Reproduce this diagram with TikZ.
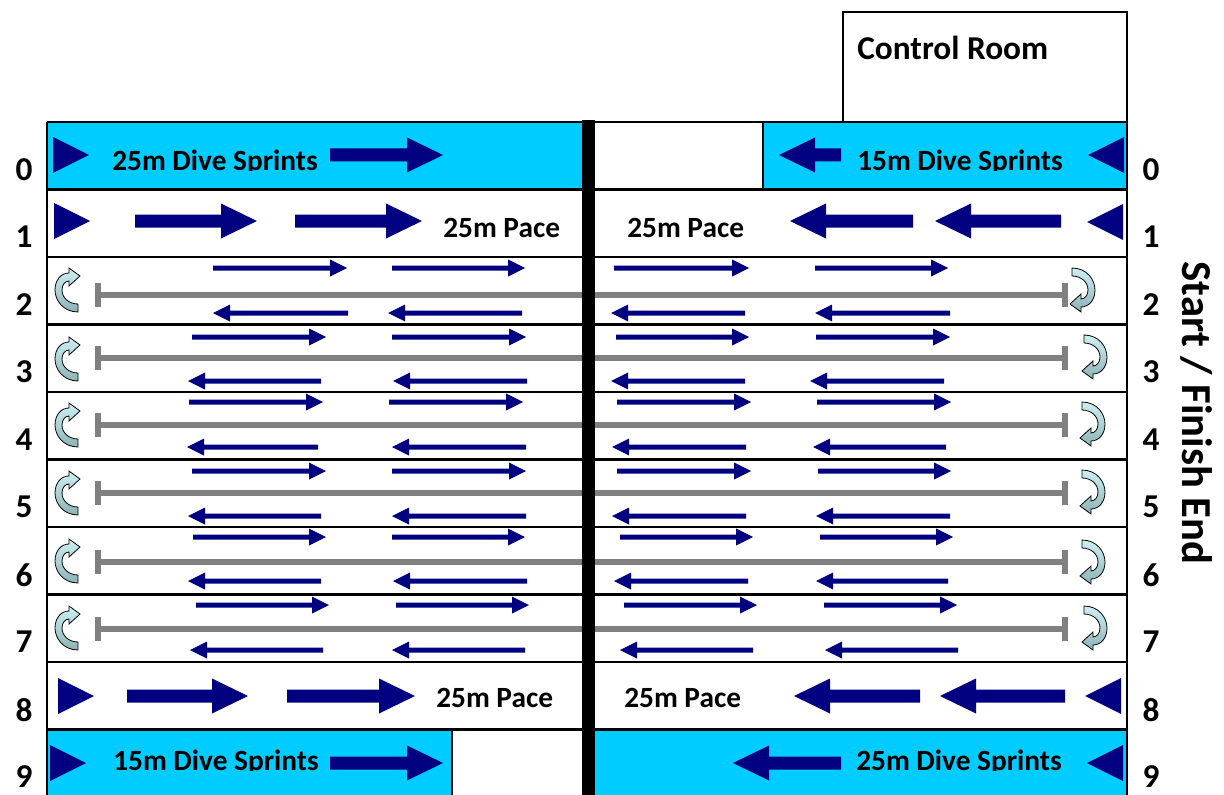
\documentclass[tikz,border=0pt]{standalone}
\usepackage{fontspec}
\setmainfont{Carlito}
\definecolor{navy}{HTML}{000080}
\definecolor{pool}{HTML}{00CCFF}
\definecolor{ropegray}{HTML}{808080}
\definecolor{turnlight}{HTML}{CDEFF3}
\definecolor{turndark}{HTML}{8DB3B6}
\newcommand{\poolarrow}[6]{%
  \pgfmathsetmacro{\padir}{(#2>#1)?1:-1}%
  \pgfmathsetmacro{\pahb}{#2-\padir*#4}%
  \fill[navy] (#1,#3-#6) -- (\pahb,#3-#6) -- (\pahb,#3-#5) -- (#2,#3) -- (\pahb,#3+#5) -- (\pahb,#3+#6) -- (#1,#3+#6) -- cycle;}
\tikzset{
  lanetxt/.style={font=\fontsize{22}{24}\selectfont\bfseries, inner sep=0pt, anchor=base west},
  numtxt/.style={font=\fontsize{25}{28}\selectfont\bfseries, inner sep=0pt},
  border/.style={line width=1.9pt},
  ropeline/.style={line width=4.5pt, ropegray},
  uturn/.pic={
    \draw[line width=0.6pt, top color=turnlight, bottom color=turndark]
      (11,22) .. controls (-4,22) and (-12,10) .. (-12,0)
      .. controls (-12,-10) and (-6,-17) .. (2,-17) -- (2,-22) -- (13,-14) -- (2,-4) -- (2,-9)
      .. controls (-2,-9) and (-5,-5) .. (-5,0)
      .. controls (-5,8) and (2,14) .. (11,14) -- cycle;
  }
}
\begin{document}
\begin{tikzpicture}[x=0.75pt,y=-0.75pt]
\useasboundingbox (0,0) rectangle (1224,795);
% pool fills
\fill[pool] (47,122) rectangle (582,189.5);
\fill[pool] (763,122) rectangle (1127,189.5);
\fill[pool] (47,729.5) rectangle (452,795);
\fill[pool] (595,729.5) rectangle (1127,795);
% control room
\draw[line width=1pt] (843,122) -- (843,12) -- (1127,12) -- (1127,122);
\node[anchor=base west, inner sep=0pt, font=\fontsize{25}{28}\selectfont\bfseries] (ctrl) at (857,60) {Control Room};
% lane lines
\foreach \y in {122,189.5,257,324.5,392,459.5,527,594.5,662,729.5}
  \draw[border] (47,\y) -- (1127,\y);
\draw[border] (47,122) -- (47,795);
\draw[border] (1127,122) -- (1127,795);
\draw[line width=1pt] (763,122) -- (763,189.5);
\draw[line width=1pt] (452,729.5) -- (452,795);
% ropes
\foreach \y in {295,357.5,425,493,562,629} {
  \draw[ropeline] (97,\y) -- (1065,\y);
  \draw[ropeline] (98,\y-12) -- (98,\y+12);
  \draw[ropeline] (1065,\y-12) -- (1065,\y+12);
}
% centre bar
\fill[black] (582,120) rectangle (595,795);
% u-turn icons
\foreach \y in {290,359,425,493,561,628}
  \pic at (67,\y) {uturn};
\pic[rotate=180] at (1083,290) {uturn};
\pic[rotate=180] at (1095,357) {uturn};
\pic[rotate=180] at (1093,424) {uturn};
\pic[rotate=180] at (1093,492) {uturn};
\pic[rotate=180] at (1093,562) {uturn};
\pic[rotate=180] at (1095,628) {uturn};
% end triangles
\fill[navy] (53,137) -- (89,155) -- (53,173) -- cycle;
\fill[navy] (54,203) -- (90,221) -- (54,239) -- cycle;
\fill[navy] (58,678) -- (94,696) -- (58,714) -- cycle;
\fill[navy] (50,745) -- (86,763) -- (50,781) -- cycle;
\fill[navy] (1124,137) -- (1088,155) -- (1124,173) -- cycle;
\fill[navy] (1123,204) -- (1087,222) -- (1123,240) -- cycle;
\fill[navy] (1121,678) -- (1085,696) -- (1121,714) -- cycle;
\fill[navy] (1123,745) -- (1087,763) -- (1123,781) -- cycle;
% big arrows
\poolarrow{330}{443}{155}{36}{17.5}{6.5}
\poolarrow{841}{779}{155}{36}{17.5}{6.5}
\poolarrow{135}{257}{221}{36}{17.5}{6.5}
\poolarrow{295}{422}{221}{36}{17.5}{6.5}
\poolarrow{913}{790}{221}{36}{17.5}{6.5}
\poolarrow{1061}{935}{221}{36}{17.5}{6.5}
\poolarrow{127}{248}{696}{36}{17.5}{6.5}
\poolarrow{287}{415}{696}{36}{17.5}{6.5}
\poolarrow{920}{794}{696}{36}{17.5}{6.5}
\poolarrow{1065}{940}{696}{36}{17.5}{6.5}
\poolarrow{330}{443}{763}{36}{17.5}{6.5}
\poolarrow{841}{733}{763}{36}{17.5}{6.5}
% thin arrows, top (rightwards)
\foreach \y/\a/\b in {268/213/347,268/392/525,268/614/749,268/815/948,
  337/192/326,337/392/526,337/616/749,337/816/950,
  402/189/323,402/389/523,402/617/751,402/817/951,
  471/192/326,471/392/526,471/617/751,471/818/951,
  537/193/326,537/392/525,537/620/753,537/820/953,
  605/196/329,605/396/529,605/624/757,605/824/957}
  {\poolarrow{\a}{\b}{\y}{17}{8.5}{2.5}}
% thin arrows, bottom (leftwards)
\foreach \y/\a/\b in {313/348/213,313/522/388,313/745/611,313/950/815,
  381/321/188,381/527/393,381/745/611,381/944/810,
  447/318/187,447/526/392,447/746/612,447/946/813,
  516/321/188,516/526/392,516/746/612,516/950/816,
  581/321/188,581/527/393,581/748/614,581/948/816,
  650/323/190,650/525/392,650/753/620,650/958/825}
  {\poolarrow{\a}{\b}{\y}{17}{8.5}{2.5}}
% lane texts
\begin{scope}
  \clip (47,122) rectangle (1127,171);
  \node[lanetxt] (t0l) at (112,171) {25m Dive Sprints};
  \node[lanetxt] (t0r) at (857,171) {15m Dive Sprints};
\end{scope}
\node[lanetxt] (t1l) at (443,237) {25m Pace};
\node[lanetxt] (t1r) at (627,237) {25m Pace};
\node[lanetxt] (t8l) at (436,707) {25m Pace};
\node[lanetxt] (t8r) at (624,707) {25m Pace};
\begin{scope}
  \clip (47,729.5) rectangle (1127,770);
  \node[lanetxt] (t9l) at (113,770) {15m Dive Sprints};
  \node[lanetxt] (t9r) at (856,770) {25m Dive Sprints};
\end{scope}
% lane numbers
\foreach \n/\y in {0/170,1/237,2/305,3/372,4/440,5/507,6/575,7/642,8/710,9/777} {
  \node[numtxt] (nl\n) at (24,\y) {\n};
  \node[numtxt] (nr\n) at (1151,\y) {\n};
}
\node[rotate=-90, inner sep=0pt, font=\fontsize{32}{35}\selectfont\bfseries] (sf) at (1196,413) {Start / Finish End};
\end{tikzpicture}
\end{document}
